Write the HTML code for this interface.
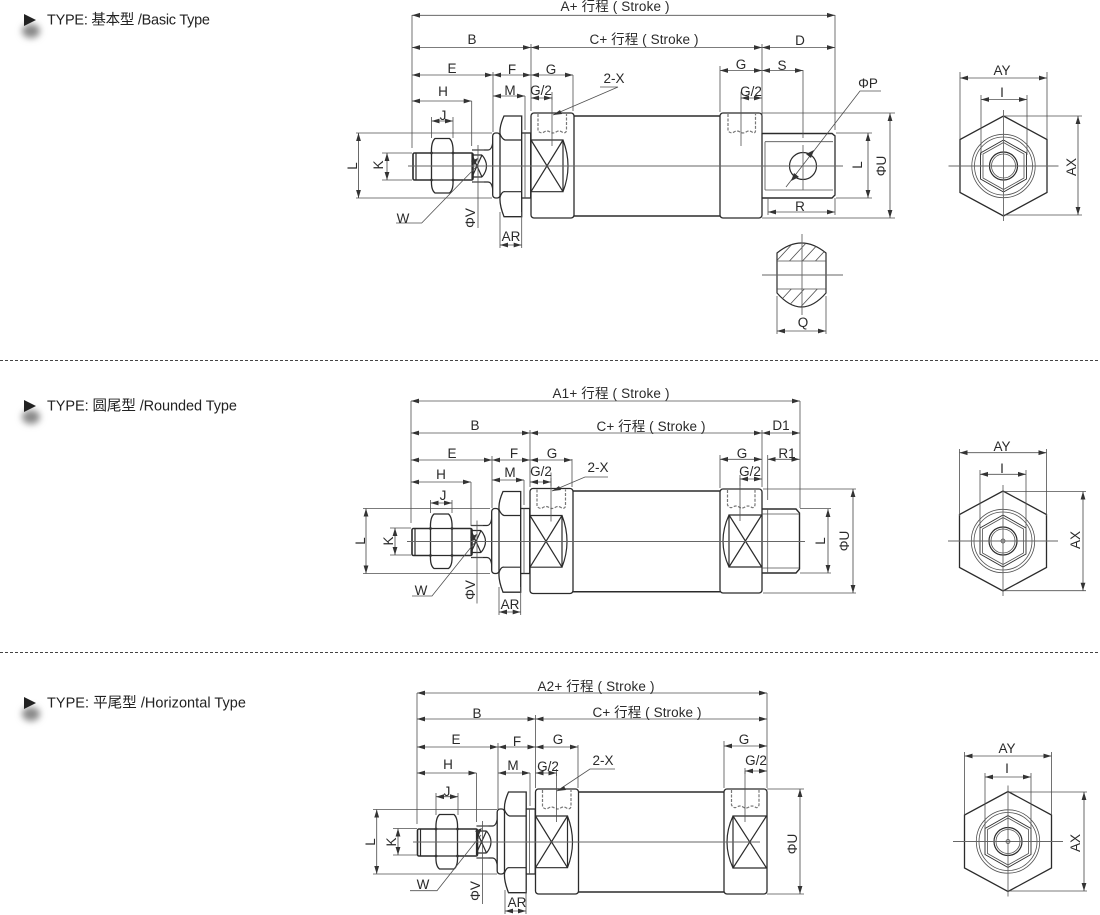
<!DOCTYPE html>
<html><head><meta charset="utf-8">
<style>
html,body{margin:0;padding:0;background:#fff}
svg{display:block;font-family:"Liberation Sans","Noto Sans CJK SC",sans-serif}
text{font-size:13.5px;fill:#2a2a2a;text-anchor:middle}
.h{font-size:14.5px;text-anchor:start;fill:#222}
.o{fill:#fff;stroke:#2b2b2b;stroke-width:1.3}
.n{fill:none;stroke:#2b2b2b;stroke-width:1.2}
.t{fill:none;stroke:#505050;stroke-width:.8}
.c{fill:none;stroke:#666;stroke-width:.9}
.d{fill:none;stroke:#505050;stroke-width:.85;marker-start:url(#as);marker-end:url(#ae)}
.p{fill:none;stroke:#777;stroke-width:1.2;stroke-dasharray:3 1.5}
</style></head><body>
<svg width="1100" height="915" viewBox="0 0 1100 915" xmlns="http://www.w3.org/2000/svg">
<defs>
<marker id="ae" markerUnits="userSpaceOnUse" markerWidth="8" markerHeight="6" refX="8" refY="3" orient="auto"><path d="M0 .6L8 3L0 5.4Z" fill="#333"/></marker>
<marker id="as" markerUnits="userSpaceOnUse" markerWidth="8" markerHeight="6" refX="0" refY="3" orient="auto"><path d="M8 .6L0 3L8 5.4Z" fill="#333"/></marker>
<filter id="bl" x="-100%" y="-100%" width="300%" height="300%"><feGaussianBlur stdDeviation="3.5"/></filter>
<clipPath id="hatchT"><path d="M777 253Q801.5 233 826 253V261H777Z"/></clipPath>
<clipPath id="hatchB"><path d="M777 289H826V293Q801.5 321 777 293Z"/></clipPath>
<g id="left">
<rect class="o" x="413" y="153" width="60" height="27" rx="1.5" style="stroke-width:1.6"/>
<path class="n" d="M416 153V180"/>
<path class="o" d="M431.500 153Q431 142 435 138.500H449.500Q453.500 142 453 153V180Q453.500 190 449.500 193H435Q431 190 431.500 180Z"/>
<path class="n" d="M431.500 153H453M431.500 180H453"/>
<circle cx="431.500" cy="153" r="1.4" fill="#333"/><circle cx="453" cy="153" r="1.4" fill="#333"/><circle cx="431.500" cy="180" r="1.4" fill="#333"/><circle cx="453" cy="180" r="1.4" fill="#333"/>
<path class="n" d="M472 150H488Q493 150 493 137M472 182H488Q493 182 493 195"/>
<path class="n" d="M472 153V179M472 155L482 177M482 155L472 177M482 155Q491 166 482 177M472 155H482M472 177H482"/>
<path class="t" d="M478 145V228M472.500 150H484M472.500 182H484"/>
<rect class="o" x="492.700" y="133" width="7.500" height="65" rx="3"/>
<path class="o" d="M504 116H521.700V216.700H504Q499.500 205 500 198V133Q499.500 126 504 116Z"/>
<path class="n" d="M500 134Q502 139 505 140H521.700M500 197Q502 191 505 191.700H521.700"/>
<rect class="o" x="521.700" y="133" width="9" height="65"/>
<path class="t" d="M525 133V198"/>
<rect class="o" x="531" y="113" width="43" height="105" rx="3"/>
<path class="n" d="M531 140H563V191.700H531M531 140L563 191.700M563 140L531 191.700M563 140Q573 166 563 191.700"/>
<path class="p" d="M538 114V131Q541 134 544 132T550 132T556 132T562 132T566.500 131V114"/>
<path class="t" d="M552 97V146"/>
</g>
<g id="end">
<polygon class="n" points="0,-50 43.500,-26.500 43.500,26.500 0,50 -43.500,26.500 -43.500,-26.500" style="stroke-width:1.3"/>
<circle class="t" r="31.700"/><circle class="t" r="29"/>
<polygon class="n" style="stroke-width:.9" points="0,-26 23,-13 23,13 0,26 -23,13 -23,-13"/>
<polygon class="t" points="0,-23.500 20.500,-12 20.500,12 0,23.500 -20.500,12 -20.500,-12"/>
<circle class="n" r="14"/><circle class="t" r="12"/>
<path class="c" d="M-55 0H55M0 -56V55"/>
</g>
</defs>
<rect width="1100" height="915" fill="#fff"/>

<!-- headers -->
<ellipse cx="31" cy="31" rx="9" ry="7" fill="#888" filter="url(#bl)"/>
<polygon points="24,14 36,20 24,26" fill="#222"/>
<text class="h" x="47" y="24.500" textLength="163">TYPE: 基本型 /Basic Type</text>
<ellipse cx="31" cy="417" rx="9" ry="7" fill="#888" filter="url(#bl)"/>
<polygon points="24,400 36,406 24,412" fill="#222"/>
<text class="h" x="47" y="410.500" textLength="190">TYPE: 圆尾型 /Rounded Type</text>
<ellipse cx="31" cy="714" rx="9" ry="7" fill="#888" filter="url(#bl)"/>
<polygon points="24,697 36,703 24,709" fill="#222"/>
<text class="h" x="47" y="707.500" textLength="199">TYPE: 平尾型 /Horizontal Type</text>

<path d="M0 360.500H1100M0 652.500H1100" stroke="#444" stroke-width="1" stroke-dasharray="3 2" fill="none"/>

<!-- ============ DIAGRAM 1 ============ -->
<use href="#left"/>
<path class="n" style="stroke-width:1.5" d="M574 116H720M574 216H720"/>
<rect class="o" x="720" y="113" width="42" height="105" rx="3"/>
<path class="p" d="M728 114V131Q731 134 734 132T740 132T746 132T752 132T755.500 131V114"/>
<path class="t" d="M741 97V146"/>
<path class="n" d="M762 133.500H832L835 136V195L832 198H762" style="stroke-width:1.4"/>
<path class="t" d="M765 141.700H833M765 190H833M765 141.700V190M835 136V195"/>
<circle class="n" cx="803" cy="166" r="13.500"/>
<path class="c" d="M408 166H843M803 145V190"/>
<path class="t" d="M412 15V148M531 44V111M762 44V133M835 15V130M493 72V132M525 96V130M471.700 101V146M431.500 117V138M453 117V138M573 75V111M720 66V112M803 70V138M552 92V100M741 92V100"/>
<path class="t" d="M356 133H492M356 198H492M382 153H412M382 180H412M762 113H895M762 218H895M836 133H872M836 198H872"/>
<path class="t" d="M500 212V248M521.700 212V248M768 198V215M835 198V215M777 296V334M826 296V334"/>
<path class="d" d="M412 15.300H835"/><path class="d" d="M412 47.500H531"/><path class="d" d="M531 47.500H762"/><path class="d" d="M762 47.500H835"/>
<path class="d" d="M412 75H493"/><path class="d" d="M493 75H531"/><path class="d" d="M531 75H573"/>
<path class="d" d="M412 101H471.700"/><path class="d" d="M493 96H525"/><path class="d" d="M431.500 121H453"/>
<path class="d" d="M531 98H552"/><path class="d" d="M741 98H762"/>
<path class="d" d="M720 70.500H762"/><path class="d" d="M762 70.500H803"/>
<path class="d" d="M358.500 133V198"/><path class="d" d="M387 153V180"/>
<path class="d" d="M500 245H521.700"/><path class="d" d="M768 212H835"/>
<path class="d" d="M868 133V198"/><path class="d" d="M890 113V218"/><path class="d" d="M777 331H826"/>
<path class="t" d="M396 223H421.700L477 166"/><path class="t" d="M600 87H618L553 115"/>
<path class="t" d="M881 91H860L786 187"/>
<polygon points="814,150 811,158 806,154" fill="#333"/><polygon points="791,181 794,173 799,177" fill="#333"/>
<polygon points="478,158 475,165 471,161" fill="#333"/><polygon points="553,115 560,110 562,114" fill="#333"/>

<path class="n" d="M777 253Q801.500 233 826 253V293Q801.500 321 777 293Z"/>
<path class="t" d="M777 261H826M777 289H826"/>
<g clip-path="url(#hatchT)"><path class="t" d="M770 268L795 241M783 268L808 241M796 268L821 241M809 268L834 241"/></g>
<g clip-path="url(#hatchB)"><path class="t" d="M770 312L795 285M783 312L808 285M796 312L821 285M809 312L834 285"/></g>
<path class="c" d="M762 275H843M802 234V315"/>

<text x="615" y="11" textLength="109">A+ 行程 ( Stroke )</text>
<text x="472" y="44">B</text><text x="644" y="44" textLength="109">C+ 行程 ( Stroke )</text><text x="800" y="45">D</text>
<text x="452" y="73">E</text><text x="512" y="74">F</text><text x="551" y="74">G</text>
<text x="443" y="96">H</text><text x="443" y="120">J</text><text x="510" y="95">M</text><text x="541" y="95">G/2</text>
<text x="741" y="69">G</text><text x="782" y="70">S</text><text x="751" y="96">G/2</text>
<text x="614" y="83">2-X</text><text x="868" y="88">ΦP</text><text x="403" y="223">W</text>
<text x="511" y="241">AR</text><text x="800" y="211">R</text><text x="803" y="327">Q</text>
<text transform="rotate(-90 352 166)" x="352" y="171">L</text>
<text transform="rotate(-90 378 165)" x="378" y="170">K</text>
<text transform="rotate(-90 470 218)" x="470" y="223">ΦV</text>
<text transform="rotate(-90 857 165)" x="857" y="170">L</text>
<text transform="rotate(-90 881 166)" x="881" y="171">ΦU</text>

<use href="#end" x="1003.500" y="166"/>
<path class="t" d="M960 72V139M1047 72V139M981 95V155M1027 95V155M1004 116H1082M1004 215H1082"/>
<path class="d" d="M960 78H1047"/><path class="d" d="M981 99.500H1027"/><path class="d" d="M1078 116V215"/>
<text x="1002" y="75">AY</text><text x="1002" y="97">I</text>
<text transform="rotate(-90 1071 167)" x="1071" y="172">AX</text>

<!-- ============ DIAGRAM 2 ============ -->
<use href="#left" x="-1" y="375.500"/>
<path class="n" style="stroke-width:1.5" d="M573 491H720M573 591.700H720"/>
<rect class="o" x="720" y="489" width="42" height="104" rx="3"/>
<path class="p" d="M727.500 490V505Q730 509 733 507T739 507T745 507T751 507T755 505V490"/>
<path class="n" d="M761.700 515H729V567H761.700M729 515L761.700 567M761.700 515L729 567M729 515Q717 541 729 567"/>
<path class="t" d="M740 475V521"/>
<path class="n" d="M762 509H796L799.500 513V569L796 573H762" style="stroke-width:1.4"/>
<path class="t" d="M767.700 509V573M762 514H799M762 568H799"/>
<path class="c" d="M407 541.500H805"/>
<path class="t" d="M411 401V523M530 430V487M762 430V487M800 401V508M492 456V508M524 480V505M471 482V526M430.500 500V513M452 500V513M572 459V487M720 455V488M767.700 455V500M551 478V486M740 478V486"/>
<path class="t" d="M363 508.500H490M363 573.500H490M390 528H411M390 555H411M763 489H856M763 593H856M800 508.500H831M800 573H831M499 587V615M520.700 587V615"/>
<path class="d" d="M411 401H800"/><path class="d" d="M411 433H530"/><path class="d" d="M530 433H762"/><path class="d" d="M762 433H800"/>
<path class="d" d="M411 460H492"/><path class="d" d="M492 460H530"/><path class="d" d="M530 460H572"/>
<path class="d" d="M411 482H471"/><path class="d" d="M492 480H524"/><path class="d" d="M430.500 503H452"/><path class="d" d="M530 482H551"/>
<path class="d" d="M720 459.300H762"/><path class="d" d="M767.700 459.300H799.500"/><path class="d" d="M740 479H762"/>
<path class="d" d="M366 508.500V573.500"/><path class="d" d="M395 528V555"/><path class="d" d="M499 612H520.700"/>
<path class="d" d="M828 509V573"/><path class="d" d="M853 489V593"/>
<path class="t" d="M412 596H432L476 541"/><path class="t" d="M608 477H585L552 491"/>
<polygon points="477,534 474,541 470,537" fill="#333"/><polygon points="552,491 559,486 561,490" fill="#333"/>
<text x="611" y="398" textLength="117">A1+ 行程 ( Stroke )</text>
<text x="475" y="430">B</text><text x="651" y="431" textLength="109">C+ 行程 ( Stroke )</text><text x="781" y="430">D1</text>
<text x="452" y="458">E</text><text x="514" y="458">F</text><text x="552" y="458">G</text>
<text x="441" y="479">H</text><text x="443" y="500">J</text><text x="510" y="477">M</text><text x="541" y="476">G/2</text>
<text x="742" y="458">G</text><text x="787" y="458">R1</text><text x="750" y="476">G/2</text>
<text x="598" y="472">2-X</text><text x="421" y="595">W</text><text x="510" y="609">AR</text>
<text transform="rotate(-90 360 541)" x="360" y="546">L</text>
<text transform="rotate(-90 388 541)" x="388" y="546">K</text>
<text transform="rotate(-90 470 590)" x="470" y="595">ΦV</text>
<text transform="rotate(-90 820 541)" x="820" y="546">L</text>
<text transform="rotate(-90 844 541)" x="844" y="546">ΦU</text>

<use href="#end" x="1003" y="541"/>
<circle class="t" cx="1003" cy="541" r="2"/>
<path class="t" d="M959.500 449V516M1046.500 449V516M980 470V530M1026 470V530M1004 491.500H1086M1004 590.700H1086"/>
<path class="d" d="M959.500 452.700H1046.500"/><path class="d" d="M980 474.300H1026"/><path class="d" d="M1083 491.500V590.700"/>
<text x="1002" y="451">AY</text><text x="1002" y="473">I</text>
<text transform="rotate(-90 1075 540)" x="1075" y="545">AX</text>

<!-- ============ DIAGRAM 3 ============ -->
<use href="#left" x="4.500" y="676"/>
<path class="n" style="stroke-width:1.5" d="M578 792H724M578 892H724"/>
<rect class="o" x="724" y="789" width="43" height="105" rx="3"/>
<path class="p" d="M731.500 790V805Q734 809 737 807T743 807T749 807T755 807T759 805V790"/>
<path class="n" d="M766.500 816H733V868H766.500M733 816L766.500 868M766.500 816L733 868M733 816Q721 842 733 868"/>
<path class="t" d="M745 771V822"/>
<path class="c" d="M413 842H760"/>
<path class="t" d="M417 693V824M535.500 715V788M767 693V788M498 743V809M530 773V806M476.500 773V822M436 793V815M458 793V815M578 745V788M724 741V788M556.500 769V776M745 768V774"/>
<path class="t" d="M373 809.500H497M373 874H497M393 828.500H417M393 855H417M767 789H804M767 894H804M505 890V914M526 890V914"/>
<path class="d" d="M417 693H767"/><path class="d" d="M417 719H535.500"/><path class="d" d="M535.500 719H767"/>
<path class="d" d="M417 747H498"/><path class="d" d="M498 747H535.500"/><path class="d" d="M535.500 747H578"/>
<path class="d" d="M417 773H476.500"/><path class="d" d="M498 773H530"/><path class="d" d="M535.500 773H556.500"/><path class="d" d="M436 796.700H458"/>
<path class="d" d="M724 746H767"/><path class="d" d="M745 771H767"/>
<path class="d" d="M376.700 809.500V874"/><path class="d" d="M398 828.500V855"/><path class="d" d="M505 911H526"/><path class="d" d="M800 789V894"/>
<path class="t" d="M410 890.700H437L481 835"/><path class="t" d="M615 769H590L557 791"/>
<polygon points="482,828 479,835 475,831" fill="#333"/><polygon points="557,791 564,786 566,790" fill="#333"/>
<text x="596" y="691" textLength="117">A2+ 行程 ( Stroke )</text>
<text x="477" y="718">B</text><text x="647" y="717" textLength="109">C+ 行程 ( Stroke )</text>
<text x="456" y="744">E</text><text x="517" y="746">F</text><text x="558" y="744">G</text>
<text x="448" y="769">H</text><text x="447" y="796">J</text><text x="513" y="770">M</text><text x="548" y="771">G/2</text>
<text x="744" y="744">G</text><text x="756" y="765">G/2</text>
<text x="603" y="765">2-X</text><text x="423" y="889">W</text><text x="517" y="907">AR</text>
<text transform="rotate(-90 370 842)" x="370" y="847">L</text>
<text transform="rotate(-90 391 842)" x="391" y="847">K</text>
<text transform="rotate(-90 475 891)" x="475" y="896">ΦV</text>
<text transform="rotate(-90 792 844)" x="792" y="849">ΦU</text>

<use href="#end" x="1008" y="841.500"/>
<circle class="t" cx="1008" cy="841.500" r="2"/>
<path class="t" d="M964.500 752V815M1051.500 752V815M985 773V830M1031 773V830M1009 792H1087M1009 891H1087"/>
<path class="d" d="M964.500 756H1051.500"/><path class="d" d="M985 777H1031"/><path class="d" d="M1084 792V891"/>
<text x="1007" y="753">AY</text><text x="1007" y="773">I</text>
<text transform="rotate(-90 1075 843)" x="1075" y="848">AX</text>
</svg>
</body></html>
